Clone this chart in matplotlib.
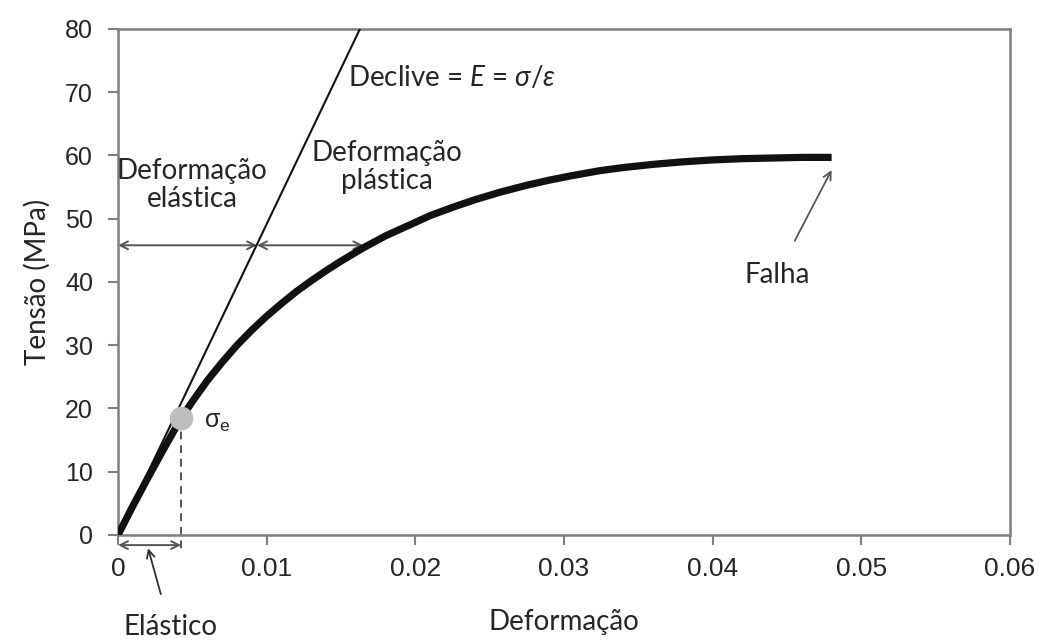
import matplotlib
matplotlib.use("Agg")
import matplotlib.pyplot as plt

# ---- data ----
strain = [0, 0.0005, 0.001, 0.002, 0.003, 0.00424, 0.005, 0.006, 0.007,
          0.008, 0.009, 0.010, 0.011, 0.012, 0.013, 0.014, 0.015, 0.0165,
          0.018, 0.0196, 0.021, 0.0225, 0.024, 0.0257, 0.0275, 0.029,
          0.0305, 0.0324, 0.034, 0.036, 0.038, 0.040, 0.042, 0.044, 0.046,
          0.048]
stress = [0, 2.3, 4.6, 9.0, 13.3, 18.45, 21.1, 24.4, 27.3,
          30.0, 32.4, 34.6, 36.6, 38.5, 40.2, 41.8, 43.3, 45.4,
          47.3, 49.0, 50.5, 51.8, 53.0, 54.2, 55.3, 56.1,
          56.8, 57.6, 58.1, 58.6, 59.0, 59.3, 59.5, 59.6, 59.7,
          59.7]
elastic_strain = [0, 0.01627]
elastic_stress = [0, 80]
yield_strain = 0.00424
yield_stress = 18.45
arrow_level = 45.8
arrow_x = [0, 0.00935, 0.0165]
x_ticks = [0, 0.01, 0.02, 0.03, 0.04, 0.05, 0.06]
x_tick_labels = ["0", "0.01", "0.02", "0.03", "0.04", "0.05", "0.06"]
y_ticks = [0, 10, 20, 30, 40, 50, 60, 70, 80]
fail_strain = 0.048
fail_tip = 57.7

plt.rcParams['mathtext.fontset'] = 'custom'
plt.rcParams['mathtext.rm'] = 'Lato'
plt.rcParams['mathtext.it'] = 'Lato:italic'
plt.rcParams['mathtext.sf'] = 'Liberation Sans'

fig = plt.figure(figsize=(10.39, 6.43), dpi=100)
ax = fig.add_axes([0.1136, 0.168, 0.8585, 0.7869])

spine_col = '#7f7f7f'
arrow_col = '#555555'
txt_col = '#262626'
txt_font = 'Lato'
fs = 20

ax.plot(strain, stress, color='#111111', lw=5.2, solid_capstyle='butt',
        solid_joinstyle='round', zorder=3)
ax.plot(elastic_strain, elastic_stress, color='#111111', lw=1.5, zorder=3)
ax.plot([yield_strain, yield_strain], [yield_stress, -2.8], color=arrow_col,
        lw=1.4, ls=(0, (4, 3)), clip_on=False, zorder=2)
ax.plot([yield_strain], [yield_stress], 'o', ms=16, color='#bdbdbd', zorder=4)

ax.set_xlim(0, 0.06)
ax.set_ylim(0, 80)
ax.set_xticks(x_ticks)
ax.set_xticklabels(x_tick_labels)
ax.set_yticks(y_ticks)
for s in ax.spines.values():
    s.set_color(spine_col)
    s.set_linewidth(1.8)
ax.tick_params(axis='both', direction='out', length=7, width=1.5, color=spine_col,
               labelcolor=txt_col)
ax.tick_params(axis='y', pad=11, labelsize=18)
ax.tick_params(axis='x', pad=9, labelsize=19)
for lab in ax.get_xticklabels() + ax.get_yticklabels():
    lab.set_family('Liberation Sans')

ax.set_ylabel('Tensão (MPa)', fontsize=fs, family=txt_font, color=txt_col, labelpad=10)
ax.set_xlabel('Deformação', fontsize=fs, family=txt_font, color=txt_col, labelpad=20)

ap = dict(arrowstyle='<->', color=arrow_col, lw=1.4, shrinkA=0, shrinkB=0,
          mutation_scale=14)
ax.annotate('', xy=(arrow_x[0], arrow_level), xytext=(arrow_x[1], arrow_level),
            arrowprops=ap, zorder=2)
ax.annotate('', xy=(arrow_x[1], arrow_level), xytext=(arrow_x[2], arrow_level),
            arrowprops=ap, zorder=2)
ax.annotate('', xy=(0, -1.6), xytext=(yield_strain, -1.6), arrowprops=ap,
            annotation_clip=False)

ax.text(0.0050, 55.3, 'Deformação\nelástica', ha='center', va='center',
        fontsize=fs, family=txt_font, color=txt_col, linespacing=1.1)
ax.text(0.0181, 58.2, 'Deformação\nplástica', ha='center', va='center',
        fontsize=fs, family=txt_font, color=txt_col, linespacing=1.1)
ax.text(0.0155, 72.3, 'Declive = $E$ = $\\sigma/\\varepsilon$', ha='left', va='center',
        fontsize=fs, family=txt_font, color=txt_col)
ax.text(0.0058, 17.8, r'$\mathsf{\sigma_e}$', ha='left', va='center',
        fontsize=18, color=txt_col)

ax.annotate('Falha', xy=(fail_strain, fail_tip), xytext=(0.04432, 41.1),
            ha='center', va='center', fontsize=fs, family=txt_font, color=txt_col,
            arrowprops=dict(arrowstyle='->', color=arrow_col, lw=1.3,
                            shrinkA=15, shrinkB=0, mutation_scale=14))
ax.annotate('Elástico', xy=(0.00202, -2.1), xytext=(0.0035, -14.6),
            ha='center', va='center', fontsize=fs, family=txt_font, color=txt_col,
            annotation_clip=False,
            arrowprops=dict(arrowstyle='->', color='#333333', lw=1.3,
                            shrinkA=13, shrinkB=0, mutation_scale=14))

fig.savefig('out.png', dpi=100)
